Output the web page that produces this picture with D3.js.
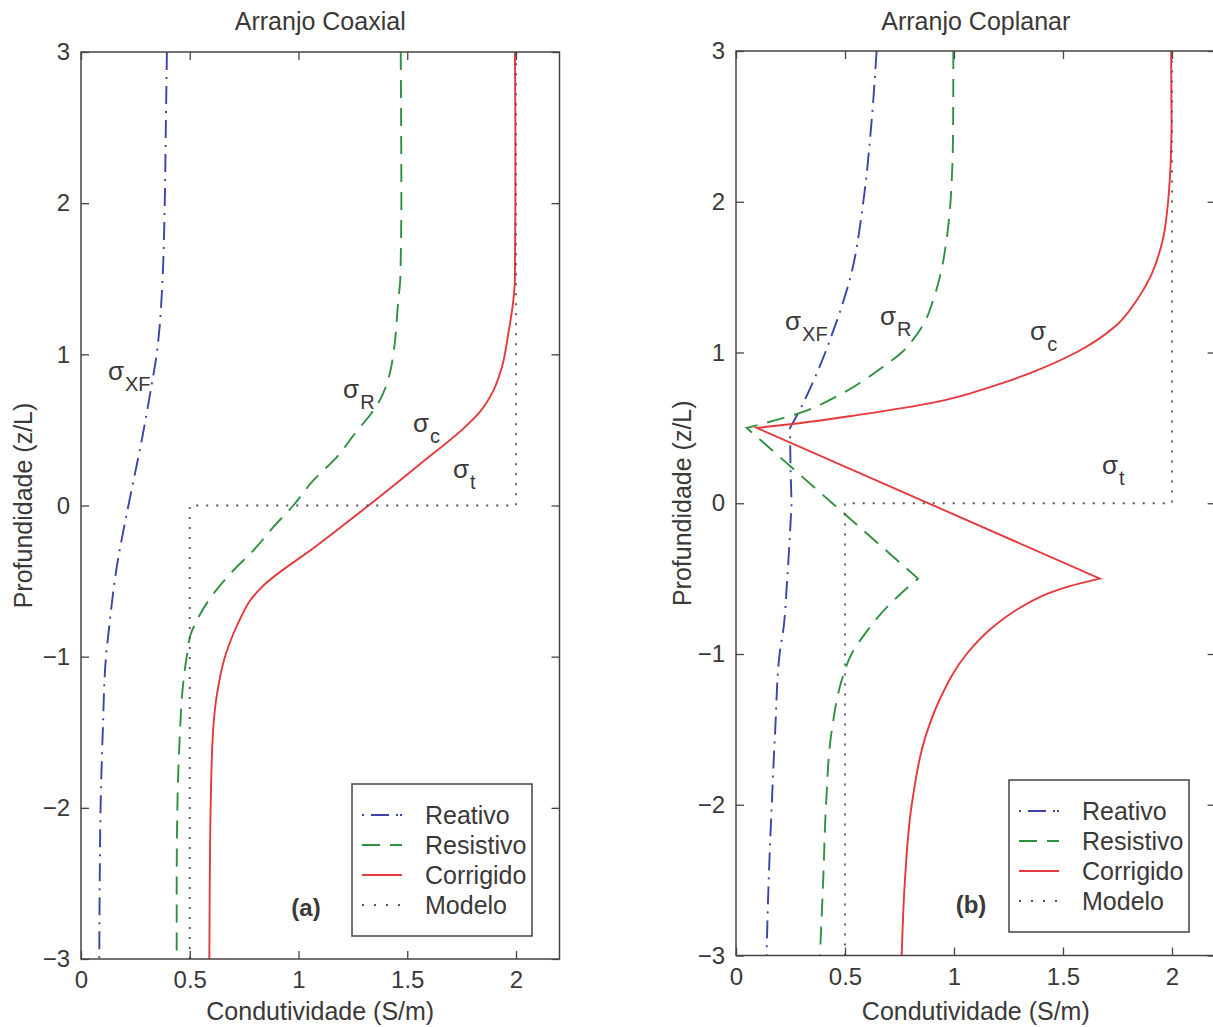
<!DOCTYPE html>
<html>
<head>
<meta charset="utf-8">
<script src="https://cdn.jsdelivr.net/npm/d3@7"></script>
<style>
  body { margin: 0; background: #fff; }
  svg text { font-family: "Liberation Sans", Arial, Helvetica, sans-serif; fill: #3b3838; }
  .axis text { font-size: 24px; }
</style>
</head>
<body>
<svg id="chart" width="1213" height="1027"></svg>
<script>
// ---------- data ----------
const xTicks = [0, 0.5, 1, 1.5, 2];
const yTicks = [-3, -2, -1, 0, 1, 2, 3];
const panelTitles = ["Arranjo Coaxial", "Arranjo Coplanar"];
const panelTags = ["(a)", "(b)"];
const legendLabels = ["Reativo", "Resistivo", "Corrigido", "Modelo"];
const xTitle = "Condutividade (S/m)";
const yTitle = "Profundidade (z/L)";

// true two-layer model (sigma_t)
const modelDepth = [-3, 0, 0, 3];
const modelCond = [0.5, 0.5, 2, 2];

// coaxial arrangement
const coaxReativoDepth = [3, 2.5, 2, 1.5, 1.16, 1.0, 0.8, 0.43, 0, -0.41, -0.85, -1, -1.5, -2, -2.5, -3];
const coaxReativoCond  = [0.395, 0.39, 0.385, 0.375, 0.36, 0.348, 0.325, 0.279, 0.218, 0.164, 0.126, 0.115, 0.1, 0.09, 0.086, 0.084];

const coaxResistivoDepth = [3, 2.5, 2, 1.5, 1.36, 1.0, 0.9, 0.8, 0.7, 0.6, 0.5, 0.32, 0.166, 0, -0.143, -0.298, -0.43, -0.585, -0.762, -0.85, -1, -1.25, -1.5, -2, -2.5, -3];
const coaxResistivoCond  = [1.47, 1.472, 1.473, 1.468, 1.459, 1.436, 1.424, 1.405, 1.375, 1.33, 1.272, 1.176, 1.068, 0.976, 0.884, 0.792, 0.70, 0.608, 0.532, 0.505, 0.486, 0.465, 0.455, 0.443, 0.44, 0.44];

const coaxCorrigidoDepth = [3, 2.5, 2, 1.5, 1.36, 1.14, 0.91, 0.76, 0.62, 0.54, 0.27, 0, -0.27, -0.54, -0.63, -0.74, -0.85, -1, -1.25, -1.5, -2, -2.5, -3];
const coaxCorrigidoCond  = [1.995, 1.997, 1.997, 1.995, 1.988, 1.965, 1.934, 1.896, 1.834, 1.781, 1.555, 1.322, 1.08, 0.831, 0.777, 0.735, 0.70, 0.662, 0.625, 0.607, 0.596, 0.592, 0.59];

// coplanar arrangement
const copReativoDepth = [3, 2.5, 2, 1.5, 1.2, 0.81, 0.6, 0.5, 0.25, 0, -0.5, -0.84, -1, -1.5, -2, -2.5, -3];
const copReativoCond  = [0.645, 0.62, 0.584, 0.525, 0.46, 0.355, 0.286, 0.248, 0.25, 0.255, 0.235, 0.217, 0.2, 0.18, 0.164, 0.15, 0.14];

const copResistivoDepth = [3, 2.5, 2, 1.75, 1.5, 1.35, 1.2, 1.1, 1.0, 0.9, 0.8, 0.72, 0.6, 0.5, -0.5, -0.605, -0.749, -0.84, -1, -1.15, -1.5, -2, -2.5, -3];
const copResistivoCond  = [0.997, 0.996, 0.984, 0.966, 0.935, 0.905, 0.865, 0.82, 0.76, 0.67, 0.57, 0.477, 0.294, 0.049, 0.835, 0.752, 0.655, 0.605, 0.53, 0.49, 0.44, 0.413, 0.4, 0.385];

const copCorrigidoDepth = [3, 2.5, 2.2, 2, 1.75, 1.5, 1.35, 1.174, 1.0, 0.875, 0.787, 0.666, 0.588, 0.529, 0.5, -0.5, -0.55, -0.6, -0.7, -0.838, -1, -1.3, -1.5, -2, -2.5, -3];
const copCorrigidoCond  = [1.996, 1.998, 1.992, 1.982, 1.958, 1.9, 1.84, 1.74, 1.56, 1.37, 1.2, 0.9, 0.57, 0.28, 0.095, 1.67, 1.53, 1.43, 1.295, 1.165, 1.058, 0.935, 0.88, 0.806, 0.775, 0.76];

// ---------- styles ----------
const seriesStyle = [
  { color: "#3a45a6", dash: "18,7,2,7", width: 1.9 },   // Reativo
  { color: "#2f9140", dash: "18,10",    width: 1.9 },   // Resistivo
  { color: "#e5393c", dash: null,       width: 1.9 },   // Corrigido
  { color: "#5a524e", dash: "2,8",      width: 1.8 }    // Modelo
];
const frameColor = "#4a4242";

const panels = [
  {
    x0: 81, x1: 559.5, yTop: 52, yBot: 959,
    series: [
      [coaxReativoDepth, coaxReativoCond],
      [coaxResistivoDepth, coaxResistivoCond],
      [coaxCorrigidoDepth, coaxCorrigidoCond],
      [modelDepth, modelCond]
    ],
    // sigma annotations: [subscript, cond, depth]
    notes: [["XF", 0.124, 0.83], ["R", 1.205, 0.71], ["c", 1.526, 0.483], ["t", 1.71, 0.18]],
    legendLeft: 352, legendTop: 784,
    tagX: 306, tagY: 916, yTitleX: 32
  },
  {
    x0: 736, x1: 1215.6, yTop: 51, yBot: 955.5,
    series: [
      [copReativoDepth, copReativoCond],
      [copResistivoDepth, copResistivoCond],
      [copCorrigidoDepth, copCorrigidoCond],
      [modelDepth, modelCond]
    ],
    notes: [["XF", 0.225, 1.152], ["R", 0.66, 1.185], ["c", 1.349, 1.086], ["t", 1.679, 0.191]],
    legendLeft: 1009, legendTop: 780,
    tagX: 971, tagY: 913, yTitleX: 691
  }
];

const svg = d3.select("#chart");
const fmt = d3.format("~g");

// Build a profile path: monotone between turning points, sharp corners at them.
function profilePath(depths, conds, x, y) {
  const pts = depths.map((z, i) => [x(conds[i]), y(z)]);
  const runs = [];
  let start = 0;
  for (let i = 1; i < pts.length - 1; i++) {
    const a = pts[i][0] - pts[i - 1][0], b = pts[i + 1][0] - pts[i][0];
    if (a * b < 0) { runs.push(pts.slice(start, i + 1)); start = i; }
  }
  runs.push(pts.slice(start));
  let d = "";
  runs.forEach((run, k) => {
    const s = d3.line().curve(d3.curveMonotoneY)(run);
    d += k === 0 ? s : s.replace(/^M[^A-Za-z]*/, "");
  });
  return d;
}

panels.forEach((p, pi) => {
  const x = d3.scaleLinear().domain([0, 2.2]).range([p.x0, p.x1]);
  const y = d3.scaleLinear().domain([-3, 3]).range([p.yBot, p.yTop]);
  const g = svg.append("g");

  const clipId = "clip" + pi;
  g.append("clipPath").attr("id", clipId)
    .append("rect").attr("x", p.x0).attr("y", p.yTop)
    .attr("width", p.x1 - p.x0).attr("height", p.yBot - p.yTop);

  // curves
  const curves = g.append("g").attr("clip-path", `url(#${clipId})`);
  p.series.forEach(([depths, conds], si) => {
    const st = seriesStyle[si];
    const path = curves.append("path")
      .attr("d", si === 3
        ? d3.line().x(d => x(d[1])).y(d => y(d[0]))(depths.map((z, i) => [z, conds[i]]))
        : profilePath(depths, conds, x, y))
      .attr("fill", "none")
      .attr("stroke", st.color)
      .attr("stroke-width", st.width);
    if (st.dash) path.attr("stroke-dasharray", st.dash);
  });

  // axes with inward ticks on all four sides
  const addAxis = (axis, tx, ty) =>
    g.append("g").attr("class", "axis").attr("transform", `translate(${tx},${ty})`)
      .style("color", frameColor)
      .call(axis)
      .call(a => a.select(".domain").remove());
  addAxis(d3.axisBottom(x).tickValues(xTicks).tickSize(-8).tickSizeOuter(0).tickPadding(12).tickFormat(fmt), 0, p.yBot);
  addAxis(d3.axisTop(x).tickValues(xTicks).tickSize(-8).tickSizeOuter(0).tickFormat(""), 0, p.yTop);
  addAxis(d3.axisLeft(y).tickValues(yTicks).tickSize(-8).tickSizeOuter(0).tickPadding(11).tickFormat(fmt), p.x0, 0);
  addAxis(d3.axisRight(y).tickValues(yTicks).tickSize(-8).tickSizeOuter(0).tickFormat(""), p.x1, 0);
  g.selectAll(".tick line").attr("stroke-width", 1.3);

  g.append("rect")
    .attr("x", p.x0).attr("y", p.yTop)
    .attr("width", p.x1 - p.x0).attr("height", p.yBot - p.yTop)
    .attr("fill", "none").attr("stroke", frameColor).attr("stroke-width", 1.5);

  // titles
  const cx = (p.x0 + p.x1) / 2;
  g.append("text").attr("x", cx).attr("y", 30).attr("text-anchor", "middle")
    .attr("font-size", 25).text(panelTitles[pi]);
  g.append("text").attr("x", cx).attr("y", 1020).attr("text-anchor", "middle")
    .attr("font-size", 25).text(xTitle);
  g.append("text")
    .attr("transform", `translate(${p.yTitleX},${(p.yTop + p.yBot) / 2}) rotate(-90)`)
    .attr("text-anchor", "middle").attr("font-size", 25).text(yTitle);

  // sigma annotations
  p.notes.forEach(([sub, c, z]) => {
    const t = g.append("text").attr("x", x(c)).attr("y", y(z)).attr("font-size", 26);
    t.append("tspan").text("σ");
    t.append("tspan").attr("font-size", 20).attr("dy", 11).attr("dx", 1).text(sub);
  });

  // legend
  const lg = g.append("g").attr("transform", `translate(${p.legendLeft},${p.legendTop})`);
  lg.append("rect").attr("width", 180).attr("height", 152)
    .attr("fill", "#fff").attr("stroke", frameColor).attr("stroke-width", 1.5);
  const sampleDash = ["2,7,18,7,2", "18,10", null, "2,10"];
  legendLabels.forEach((lab, i) => {
    const st = seriesStyle[i];
    const ly = 31 + i * 30;
    const ln = lg.append("line").attr("x1", 10).attr("x2", 50).attr("y1", ly).attr("y2", ly)
      .attr("stroke", st.color).attr("stroke-width", st.width);
    if (sampleDash[i]) ln.attr("stroke-dasharray", sampleDash[i]);
    lg.append("text").attr("x", 73).attr("y", ly + 9).attr("font-size", 25).text(lab);
  });

  // panel tag
  g.append("text").attr("x", p.tagX).attr("y", p.tagY).attr("text-anchor", "middle")
    .attr("font-size", 24).attr("font-weight", "bold").text(panelTags[pi]);
});
</script>
</body>
</html>
